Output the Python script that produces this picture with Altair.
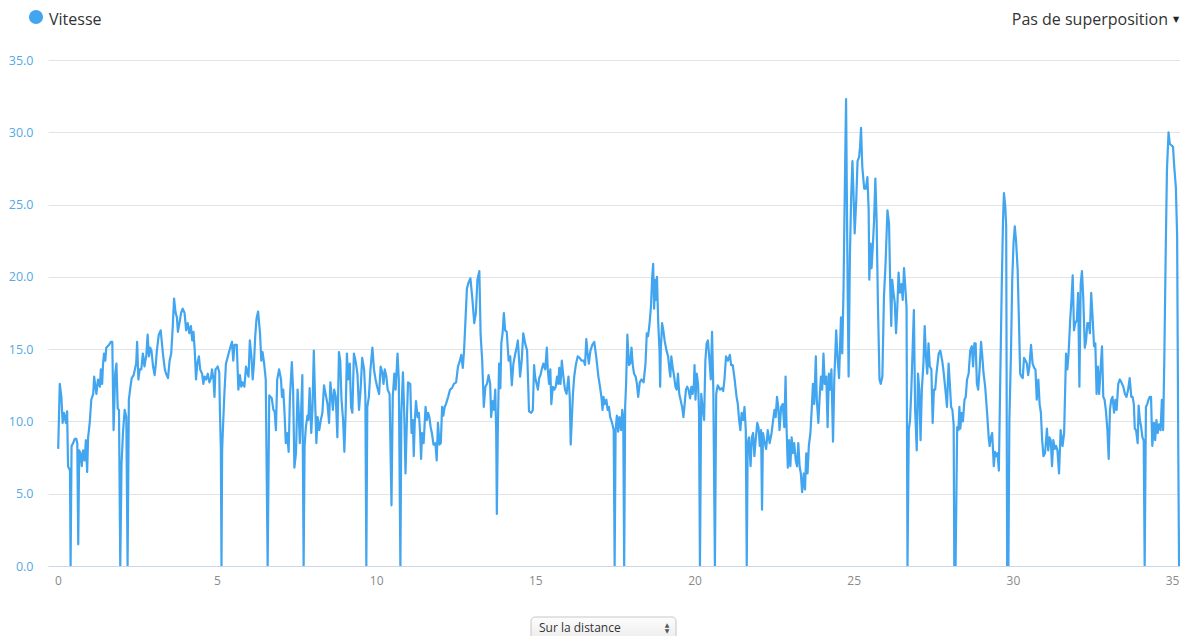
import altair as alt
import pandas as pd

# ---- data: (distance km, speed km/h), split in segments ----
seg_00_05 = [
    (0.01, 8.1), (0.06, 12.6), (0.11, 11.7), (0.15, 9.9), (0.19, 10.6), (0.25, 9.9), (0.29, 10.7),
    (0.32, 6.9), (0.38, 6.6), (0.40, 0.0), (0.43, 8.3), (0.48, 8.5), (0.53, 8.8), (0.58, 8.8),
    (0.61, 8.5), (0.64, 1.5), (0.67, 8.0), (0.71, 7.8), (0.75, 6.9), (0.79, 8.0), (0.84, 7.3),
    (0.88, 8.7), (0.92, 6.5), (0.95, 8.9), (1.00, 9.9), (1.05, 11.5), (1.11, 11.9), (1.14, 13.1),
    (1.18, 12.4), (1.21, 11.9), (1.26, 12.9), (1.32, 12.4), (1.35, 13.6), (1.39, 12.6), (1.42, 14.0),
    (1.45, 14.7), (1.49, 14.2), (1.52, 15.1), (1.61, 15.3), (1.66, 15.5), (1.71, 15.5), (1.75, 9.4),
    (1.80, 13.3), (1.84, 14.0), (1.88, 10.9), (1.92, 10.8), (1.96, 0.0), (2.00, 7.1), (2.05, 9.4),
    (2.10, 10.8), (2.15, 10.3), (2.19, 0.0), (2.23, 11.5), (2.28, 12.4), (2.32, 13.0), (2.38, 13.2),
    (2.42, 13.6), (2.46, 14.0), (2.49, 15.5), (2.53, 12.9), (2.57, 13.6), (2.62, 13.6), (2.67, 14.7),
    (2.72, 13.8), (2.78, 14.6), (2.82, 16.0), (2.86, 14.5), (2.90, 15.1), (2.94, 14.9), (2.99, 13.8),
    (3.04, 13.2), (3.07, 13.8), (3.11, 14.9), (3.17, 16.0), (3.23, 16.3), (3.30, 14.7), (3.36, 13.6),
    (3.40, 13.3), (3.46, 13.0), (3.51, 14.2), (3.56, 14.7), (3.61, 16.6), (3.65, 18.5), (3.70, 17.5),
    (3.74, 17.2), (3.77, 16.2), (3.82, 16.8), (3.87, 17.5), (3.92, 17.8), (3.98, 17.5), (4.03, 16.3),
    (4.08, 16.8), (4.13, 16.1), (4.18, 16.6), (4.22, 15.6), (4.26, 16.2), (4.30, 14.9), (4.34, 12.9),
    (4.38, 14.0), (4.43, 14.5), (4.47, 13.6), (4.53, 13.3), (4.57, 12.6), (4.61, 13.1), (4.66, 12.9),
    (4.71, 13.3), (4.76, 12.7), (4.81, 13.0), (4.84, 13.6), (4.89, 12.9), (4.92, 11.7), (4.95, 13.6),
    (4.99, 13.7), (5.02, 13.8), (5.07, 13.4), (5.09, 10.8), (5.12, 8.1), (5.14, 0.0),
]
seg_05_10 = [
    (5.16, 8.0), (5.18, 9.2), (5.23, 11.9), (5.28, 14.0), (5.33, 14.4), (5.39, 14.9), (5.44, 15.3),
    (5.47, 15.5), (5.51, 14.2), (5.55, 15.3), (5.62, 15.3), (5.67, 12.2), (5.72, 13.2), (5.76, 12.4),
    (5.80, 12.7), (5.86, 12.4), (5.91, 13.8), (5.96, 13.3), (5.99, 13.1), (6.03, 15.6), (6.08, 14.5),
    (6.12, 12.9), (6.16, 14.0), (6.20, 15.9), (6.24, 17.1), (6.29, 17.6), (6.35, 16.1), (6.39, 14.2),
    (6.43, 14.8), (6.48, 14.0), (6.53, 12.9), (6.59, 0.0), (6.64, 11.8), (6.72, 11.6), (6.77, 10.8),
    (6.81, 10.7), (6.85, 9.4), (6.89, 12.9), (6.95, 13.6), (7.01, 12.9), (7.04, 11.7), (7.08, 12.2),
    (7.12, 10.6), (7.16, 8.5), (7.20, 9.2), (7.25, 7.9), (7.29, 11.7), (7.35, 14.1), (7.39, 12.2),
    (7.43, 6.8), (7.48, 7.8), (7.53, 12.2), (7.56, 11.0), (7.60, 8.5), (7.64, 10.6), (7.68, 13.2),
    (7.72, 0.0), (7.75, 8.3), (7.79, 9.6), (7.84, 10.4), (7.87, 10.1), (7.91, 12.3), (7.96, 9.2),
    (8.00, 11.0), (8.04, 14.9), (8.08, 11.5), (8.12, 8.5), (8.16, 10.3), (8.21, 9.4), (8.26, 10.1),
    (8.31, 10.6), (8.36, 12.5), (8.41, 11.9), (8.47, 11.2), (8.52, 9.9), (8.56, 12.7), (8.60, 11.8),
    (8.64, 10.8), (8.68, 12.2), (8.73, 11.7), (8.78, 8.9), (8.83, 14.8), (8.87, 14.2), (8.91, 11.5),
    (8.96, 10.1), (9.00, 7.9), (9.04, 10.6), (9.08, 14.7), (9.12, 12.9), (9.17, 14.0), (9.21, 11.0),
    (9.25, 10.6), (9.30, 14.7), (9.35, 14.2), (9.41, 13.3), (9.46, 10.8), (9.51, 12.2), (9.56, 14.4),
    (9.62, 13.6), (9.66, 11.7), (9.69, 0.0), (9.72, 11.0), (9.77, 11.7), (9.82, 13.6), (9.88, 15.1),
    (9.93, 13.6), (9.98, 12.9),
]
seg_10_15 = [
    (10.03, 12.4), (10.09, 11.9), (10.14, 13.8), (10.19, 13.4), (10.23, 12.6), (10.27, 13.6),
    (10.32, 13.1), (10.36, 12.2), (10.42, 11.9), (10.48, 4.2), (10.52, 11.7), (10.57, 13.3),
    (10.61, 12.2), (10.67, 14.7), (10.71, 12.9), (10.76, 0.0), (10.79, 10.6), (10.84, 13.4),
    (10.88, 10.6), (10.92, 6.4), (10.97, 10.6), (11.00, 12.7), (11.07, 12.6), (11.11, 9.2),
    (11.15, 10.1), (11.18, 7.6), (11.21, 9.9), (11.25, 11.4), (11.30, 10.3), (11.34, 10.6),
    (11.38, 9.2), (11.41, 7.4), (11.44, 9.2), (11.49, 8.5), (11.55, 11.0), (11.59, 10.1),
    (11.63, 10.6), (11.67, 10.3), (11.71, 9.6), (11.75, 9.2), (11.80, 8.4), (11.86, 8.5),
    (11.90, 7.3), (11.94, 9.9), (11.99, 8.4), (12.03, 8.5), (12.07, 11.0), (12.11, 10.4),
    (12.15, 11.0), (12.19, 11.2), (12.26, 11.7), (12.32, 12.2), (12.38, 12.3), (12.44, 12.6),
    (12.51, 12.7), (12.57, 13.8), (12.63, 14.2), (12.67, 14.6), (12.72, 13.7), (12.76, 14.9),
    (12.80, 16.8), (12.85, 19.2), (12.90, 19.6), (12.96, 19.9), (13.02, 18.5), (13.08, 16.8),
    (13.13, 17.5), (13.18, 19.8), (13.24, 20.4), (13.28, 16.0), (13.33, 14.2), (13.38, 11.0),
    (13.43, 12.4), (13.48, 12.6), (13.53, 13.2), (13.58, 12.6), (13.61, 10.3), (13.66, 11.4),
    (13.70, 10.8), (13.74, 12.2), (13.77, 9.2), (13.79, 3.6), (13.82, 9.4), (13.86, 14.0),
    (13.90, 12.3), (13.93, 15.4), (13.97, 16.1), (14.01, 17.5), (14.05, 16.3), (14.10, 16.2),
    (14.16, 14.2), (14.21, 14.5), (14.26, 12.5), (14.31, 14.0), (14.37, 14.7), (14.42, 15.2),
    (14.45, 15.6), (14.49, 14.2), (14.52, 13.1), (14.57, 14.2), (14.62, 16.1), (14.68, 15.4),
    (14.74, 14.9), (14.78, 12.2), (14.80, 10.7), (14.87, 10.6), (14.92, 10.8), (14.96, 13.9),
    (14.99, 13.1),
]
seg_15_20 = [
    (15.03, 12.7), (15.08, 12.2), (15.12, 13.0), (15.16, 13.2), (15.20, 13.6), (15.25, 14.0),
    (15.31, 13.6), (15.36, 15.1), (15.39, 13.6), (15.43, 12.6), (15.47, 13.6), (15.50, 11.2),
    (15.55, 12.4), (15.60, 12.2), (15.64, 12.4), (15.68, 13.1), (15.72, 12.6), (15.75, 13.7),
    (15.79, 12.6), (15.83, 14.2), (15.88, 13.1), (15.93, 12.2), (15.98, 11.9), (16.04, 13.1),
    (16.08, 11.7), (16.11, 8.4), (16.14, 9.9), (16.18, 11.9), (16.22, 13.1), (16.27, 13.9),
    (16.33, 14.5), (16.39, 14.4), (16.45, 14.2), (16.52, 14.2), (16.56, 13.9), (16.60, 15.7),
    (16.64, 14.7), (16.68, 14.0), (16.73, 14.9), (16.79, 15.3), (16.85, 15.5), (16.91, 14.5),
    (16.98, 13.1), (17.03, 12.4), (17.08, 11.6), (17.11, 10.8), (17.14, 11.7), (17.18, 11.2),
    (17.23, 11.5), (17.27, 10.8), (17.31, 11.0), (17.35, 10.3), (17.41, 9.9), (17.46, 9.4),
    (17.49, 0.0), (17.52, 9.4), (17.56, 10.4), (17.60, 9.3), (17.64, 10.3), (17.69, 9.4),
    (17.73, 10.8), (17.76, 10.3), (17.79, 0.0), (17.82, 11.0), (17.85, 12.6), (17.89, 16.0),
    (17.94, 13.9), (17.98, 14.0), (18.02, 15.1), (18.06, 13.9), (18.10, 13.3), (18.15, 13.1),
    (18.19, 12.6), (18.23, 11.7), (18.28, 12.7), (18.33, 12.9), (18.40, 12.7), (18.46, 14.0),
    (18.50, 16.1), (18.54, 15.9), (18.58, 16.6), (18.63, 17.9), (18.67, 20.0), (18.70, 20.9),
    (18.73, 17.8), (18.76, 19.8), (18.79, 18.4), (18.82, 20.0), (18.86, 16.8), (18.90, 14.9),
    (18.92, 12.4), (18.94, 14.9), (18.98, 16.8), (19.02, 16.3), (19.06, 15.6), (19.12, 14.9),
    (19.17, 14.5), (19.21, 13.6), (19.24, 13.1), (19.27, 14.5), (19.31, 13.8), (19.36, 13.1),
    (19.40, 12.4), (19.44, 12.2), (19.48, 13.3), (19.52, 11.9), (19.56, 11.5), (19.61, 11.0),
    (19.65, 10.3), (19.69, 11.2), (19.73, 12.2), (19.77, 12.4), (19.81, 12.2), (19.86, 11.6),
    (19.90, 12.4), (19.94, 11.9), (19.98, 12.6),
]
seg_20_25 = [
    (20.00, 13.9), (20.03, 11.5), (20.07, 13.3), (20.11, 12.6), (20.14, 10.8), (20.17, 0.0),
    (20.21, 11.9), (20.25, 11.0), (20.30, 10.1), (20.34, 14.2), (20.38, 15.4), (20.42, 15.6),
    (20.46, 14.5), (20.51, 12.9), (20.55, 16.2), (20.59, 12.2), (20.64, 0.0), (20.68, 11.9),
    (20.73, 12.5), (20.80, 12.2), (20.86, 12.3), (20.90, 12.1), (20.94, 12.9), (20.99, 14.5),
    (21.05, 14.2), (21.11, 14.6), (21.15, 13.9), (21.20, 13.9), (21.26, 12.9), (21.32, 11.7),
    (21.36, 11.2), (21.40, 10.1), (21.44, 9.4), (21.48, 10.6), (21.53, 10.1), (21.57, 11.0),
    (21.61, 9.4), (21.64, 0.0), (21.67, 8.5), (21.71, 8.9), (21.76, 6.9), (21.80, 8.9),
    (21.84, 9.2), (21.88, 7.6), (21.92, 8.7), (21.97, 9.9), (22.01, 9.6), (22.05, 8.3),
    (22.09, 9.4), (22.12, 3.9), (22.15, 9.2), (22.19, 8.7), (22.25, 8.1), (22.30, 9.4),
    (22.36, 8.5), (22.42, 9.2), (22.47, 10.1), (22.51, 10.8), (22.55, 10.3), (22.59, 11.7),
    (22.63, 11.0), (22.67, 9.4), (22.72, 11.0), (22.77, 11.2), (22.82, 9.6), (22.86, 13.1),
    (22.89, 9.6), (22.93, 6.8), (22.97, 8.7), (23.01, 6.9), (23.05, 8.9), (23.09, 7.8),
    (23.13, 8.5), (23.18, 7.3), (23.22, 6.9), (23.26, 8.5), (23.30, 6.9), (23.34, 6.4),
    (23.38, 5.1), (23.43, 6.4), (23.47, 5.3), (23.51, 7.8), (23.55, 6.4), (23.59, 8.3),
    (23.64, 9.2), (23.68, 10.8), (23.72, 12.6), (23.76, 11.2), (23.81, 14.5), (23.84, 11.5),
    (23.89, 9.9), (23.93, 11.7), (23.97, 13.1), (24.01, 12.2), (24.05, 14.7), (24.09, 12.6),
    (24.14, 13.1), (24.18, 9.6), (24.22, 13.3), (24.26, 12.2), (24.30, 13.6), (24.35, 8.6),
    (24.39, 12.9), (24.45, 16.3), (24.49, 14.5), (24.54, 13.0), (24.60, 17.2), (24.64, 14.7),
    (24.68, 19.1), (24.72, 26.0), (24.76, 32.3), (24.81, 19.1), (24.84, 13.1), (24.88, 21.4),
    (24.92, 25.5), (24.96, 28.0),
]
seg_25_30 = [
    (25.00, 25.3), (25.03, 23.0), (25.08, 25.3), (25.12, 28.0), (25.17, 28.3), (25.20, 29.0),
    (25.23, 30.3), (25.27, 27.6), (25.33, 26.1), (25.38, 26.1), (25.43, 26.9), (25.47, 24.6),
    (25.49, 19.8), (25.53, 22.3), (25.56, 20.6), (25.60, 22.1), (25.64, 23.9), (25.68, 26.8),
    (25.72, 23.9), (25.76, 18.2), (25.81, 12.9), (25.85, 12.6), (25.90, 13.1), (25.95, 18.6),
    (26.00, 20.9), (26.06, 24.6), (26.11, 23.7), (26.15, 19.1), (26.18, 16.6), (26.21, 19.8),
    (26.24, 19.1), (26.29, 18.2), (26.33, 16.1), (26.37, 17.9), (26.41, 20.3), (26.45, 18.9),
    (26.50, 19.5), (26.54, 18.4), (26.58, 20.6), (26.62, 19.3), (26.66, 17.9), (26.69, 0.0),
    (26.73, 9.4), (26.77, 10.1), (26.81, 12.2), (26.85, 14.9), (26.89, 17.7), (26.93, 10.8),
    (26.98, 8.0), (27.02, 13.3), (27.06, 12.2), (27.10, 8.7), (27.14, 12.2), (27.19, 14.0),
    (27.23, 16.6), (27.27, 14.5), (27.31, 13.3), (27.35, 15.4), (27.39, 13.8), (27.44, 13.6),
    (27.48, 9.9), (27.52, 12.2), (27.56, 12.2), (27.60, 13.3), (27.67, 14.7), (27.72, 14.9),
    (27.78, 14.2), (27.83, 13.3), (27.88, 12.2), (27.93, 11.0), (27.98, 14.0), (28.02, 12.6),
    (28.06, 11.0), (28.10, 10.8), (28.14, 9.8), (28.16, 0.0), (28.20, 0.0), (28.25, 9.6),
    (28.29, 9.4), (28.32, 11.0), (28.35, 9.5), (28.39, 10.6), (28.43, 10.0), (28.48, 11.5),
    (28.52, 11.7), (28.56, 12.9), (28.61, 13.3), (28.66, 14.9), (28.71, 15.2), (28.75, 13.8),
    (28.79, 15.4), (28.83, 15.4), (28.87, 12.6), (28.91, 12.2), (28.96, 13.8), (29.00, 15.5),
    (29.04, 14.5), (29.08, 13.3), (29.13, 12.4), (29.19, 10.6), (29.24, 8.9), (29.27, 8.3),
    (29.31, 8.9), (29.35, 9.2), (29.40, 6.9), (29.44, 7.9), (29.48, 7.6), (29.52, 7.8),
    (29.56, 6.6), (29.60, 12.4), (29.65, 19.3), (29.69, 23.9), (29.72, 25.8), (29.76, 24.9),
    (29.79, 23.5), (29.82, 0.0), (29.86, 0.0), (29.89, 10.1), (29.94, 14.7), (29.98, 19.8),
]
seg_30_35 = [
    (30.02, 22.3), (30.06, 23.5), (30.10, 22.5), (30.15, 20.5), (30.19, 17.0), (30.23, 13.3),
    (30.27, 13.1), (30.31, 13.0), (30.35, 14.4), (30.40, 14.2), (30.44, 14.0), (30.48, 13.2),
    (30.52, 13.8), (30.57, 15.3), (30.62, 14.0), (30.67, 13.7), (30.71, 13.6), (30.75, 11.5),
    (30.80, 12.9), (30.84, 11.2), (30.88, 10.6), (30.92, 8.7), (30.96, 7.6), (31.01, 7.8),
    (31.07, 9.5), (31.11, 8.0), (31.15, 8.9), (31.19, 8.7), (31.23, 6.9), (31.27, 8.7),
    (31.32, 8.1), (31.36, 8.3), (31.40, 8.0), (31.45, 6.4), (31.50, 9.4), (31.56, 8.3),
    (31.61, 9.2), (31.67, 14.7), (31.71, 13.6), (31.75, 14.7), (31.80, 17.0), (31.84, 18.4),
    (31.88, 20.1), (31.92, 16.3), (31.96, 16.8), (32.01, 17.0), (32.05, 18.9), (32.09, 12.4),
    (32.13, 19.5), (32.17, 20.4), (32.21, 18.6), (32.26, 15.1), (32.30, 15.6), (32.34, 16.8),
    (32.38, 16.8), (32.42, 16.1), (32.46, 18.9), (32.51, 17.0), (32.55, 15.2), (32.59, 15.4),
    (32.63, 11.9), (32.67, 13.8), (32.71, 11.9), (32.76, 13.8), (32.80, 15.2), (32.84, 11.7),
    (32.88, 11.5), (32.92, 10.8), (32.97, 9.4), (33.01, 7.4), (33.05, 10.8), (33.09, 11.5),
    (33.13, 11.7), (33.18, 10.6), (33.22, 11.5), (33.26, 10.8), (33.31, 12.6), (33.36, 12.9),
    (33.41, 12.7), (33.47, 12.4), (33.52, 11.9), (33.57, 11.7), (33.62, 12.2), (33.67, 13.0),
    (33.72, 11.7), (33.76, 11.7), (33.80, 11.2), (33.83, 9.5), (33.87, 9.4), (33.92, 8.5),
    (33.95, 11.1), (33.99, 10.1), (34.03, 9.6), (34.07, 8.9), (34.11, 8.7), (34.14, 0.0),
    (34.18, 11.0), (34.22, 11.2), (34.26, 11.5), (34.30, 11.7), (34.34, 11.7), (34.38, 8.3),
    (34.43, 9.9), (34.47, 8.7), (34.51, 10.1), (34.55, 9.2), (34.59, 9.8), (34.64, 9.4),
    (34.68, 11.5), (34.72, 9.4), (34.76, 14.7), (34.80, 21.6), (34.84, 27.4), (34.89, 30.0),
    (34.93, 29.2), (34.98, 29.1), (35.03, 29.0), (35.07, 27.6), (35.12, 26.2), (35.16, 22.8),
    (35.19, 10.1), (35.22, 0.0),
]

x_ticks = [0, 5, 10, 15, 20, 25, 30, 35]
y_ticks = [0, 5, 10, 15, 20, 25, 30, 35]
series_name = "Vitesse"
overlay_label = "Pas de superposition"
selector_label = "Sur la distance"

BLUE = "#42a5ef"

points = seg_00_05 + seg_05_10 + seg_10_15 + seg_15_20 + seg_20_25 + seg_25_30 + seg_30_35
df = pd.DataFrame(points, columns=["km", "vitesse"])
one = pd.DataFrame({"k": [0]})

line = alt.Chart(df).mark_line(color=BLUE, strokeWidth=2.2, strokeJoin="round", clip=True).encode(
    x=alt.X(
        "km:Q",
        scale=alt.Scale(domain=[-0.31, 35.25], nice=False, zero=False),
        axis=alt.Axis(values=x_ticks, title=None, grid=False, ticks=False, labelPadding=9,
                      labelColor="#8a8a8a", labelFontSize=12, domainColor="#ccd6eb",
                      labelFlush=False, format="d"),
    ),
    y=alt.Y(
        "vitesse:Q",
        scale=alt.Scale(domain=[0, 35], nice=False),
        axis=alt.Axis(values=y_ticks, format=".1f", title=None, domain=False, ticks=False,
                      labelPadding=15, labelColor="#55a9e6", labelFontSize=12.5,
                      gridColor="#e3e3e3", labelFlush=False),
    ),
)

legend_dot = alt.Chart(one).mark_circle(color=BLUE, opacity=1, size=200).encode(
    x=alt.value(-12), y=alt.value(-43)
)
legend_text = alt.Chart(one).mark_text(
    align="left", baseline="alphabetic", fontSize=16, font="Open Sans", color="#333333"
).encode(x=alt.value(1), y=alt.value(-35), text=alt.value(series_name))

overlay_text = alt.Chart(one).mark_text(
    align="right", baseline="alphabetic", fontSize=16, font="Open Sans", color="#333333"
).encode(x=alt.value(1120), y=alt.value(-35), text=alt.value(overlay_label))
overlay_arrow = alt.Chart(one).mark_text(
    align="center", baseline="middle", fontSize=8, font="DejaVu Sans", color="#222222"
).encode(x=alt.value(1128), y=alt.value(-40), text=alt.value("▼"))

box = alt.Chart(one).mark_rect(
    cornerRadius=4,
    stroke="#c6c6c6",
    strokeWidth=1,
    fill=alt.LinearGradient(
        gradient="linear",
        stops=[alt.GradientStop(color="#fdfdfd", offset=0), alt.GradientStop(color="#e3e3e3", offset=1)],
        x1=0, x2=0, y1=0, y2=1,
    ),
).encode(x=alt.value(483), x2=alt.value(628), y=alt.value(557), y2=alt.value(592))
box_text = alt.Chart(one).mark_text(
    align="left", baseline="alphabetic", fontSize=12, font="Open Sans", color="#333333"
).encode(x=alt.value(491), y=alt.value(572), text=alt.value(selector_label))
box_up = alt.Chart(one).mark_text(
    align="center", baseline="middle", fontSize=6, font="DejaVu Sans", color="#555555"
).encode(x=alt.value(619), y=alt.value(565), text=alt.value("▲"))
box_down = alt.Chart(one).mark_text(
    align="center", baseline="middle", fontSize=6, font="DejaVu Sans", color="#555555"
).encode(x=alt.value(619), y=alt.value(571), text=alt.value("▼"))

chart = alt.layer(
    line, legend_dot, legend_text, overlay_text, overlay_arrow, box, box_text, box_up, box_down
).properties(
    width=1132,
    height=506,
    autosize=alt.AutoSizeParams(type="none"),
    padding={"left": 40, "top": 52, "right": 0, "bottom": 70},
).configure_view(stroke=None).configure_axis(labelFont="Open Sans")

chart.save("out.html", embed_options={"renderer": "svg", "actions": False})
